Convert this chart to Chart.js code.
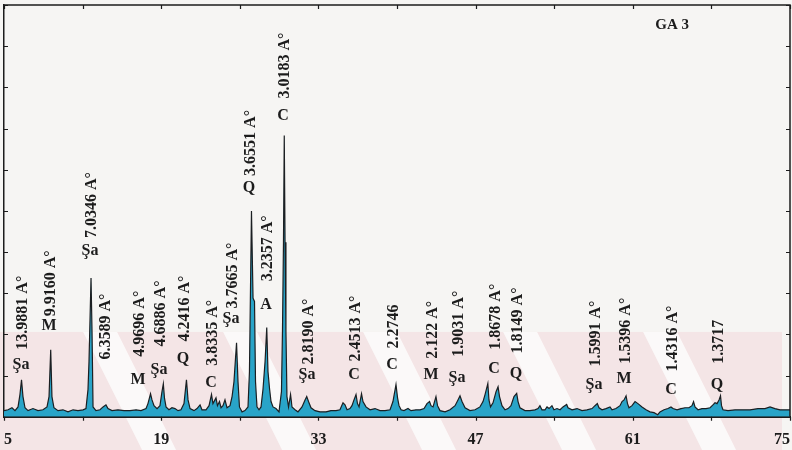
<!DOCTYPE html>
<html>
<head>
<meta charset="utf-8">
<script src="https://cdn.jsdelivr.net/npm/chart.js@4.4.1/dist/chart.umd.min.js"></script>
<style>
  html, body { margin: 0; padding: 0; background: #f6f5f3; }
  canvas { display: block; }
</style>
</head>
<body>
<canvas id="xrd" width="792" height="450"></canvas>
<script>
// Diffraction profile of sample GA 3: 2θ (degrees) and intensity (counts)
const twoTheta = [
  5.00, 5.36, 5.71, 5.98, 6.25, 6.42, 6.56, 6.69, 6.87, 7.14, 7.58, 8.03, 8.47, 8.83, 9.01, 9.16, 9.27, 9.45, 9.81, 10.25,
  10.70, 11.15, 11.59, 12.04, 12.30, 12.48, 12.57, 12.75, 12.84, 12.93, 13.19, 13.55, 13.82, 14.08, 14.26, 14.62, 15.15, 15.69, 16.22, 16.76,
  17.20, 17.65, 17.82, 18.05, 18.18, 18.36, 18.63, 18.89, 19.07, 19.19, 19.29, 19.43, 19.69, 19.96, 20.23, 20.50, 20.76, 21.03, 21.25, 21.39,
  21.57, 21.92, 22.19, 22.46, 22.63, 22.99, 23.26, 23.48, 23.61, 23.88, 24.01, 24.19, 24.33, 24.50, 24.68, 24.86, 25.13, 25.31, 25.48, 25.71,
  25.84, 25.97, 26.20, 26.46, 26.73, 26.86, 27.04, 27.18, 27.31, 27.40, 27.53, 27.71, 27.89, 28.07, 28.25, 28.40, 28.51, 28.65, 28.78, 28.96,
  29.22, 29.49, 29.71, 29.80, 29.89, 29.96, 30.03, 30.11, 30.20, 30.34, 30.52, 30.65, 30.92, 31.18, 31.54, 31.81, 31.96, 32.12, 32.34, 32.70,
  33.14, 33.68, 34.12, 34.57, 34.92, 35.19, 35.37, 35.55, 35.81, 35.99, 36.17, 36.35, 36.48, 36.62, 36.84, 36.97, 37.24, 37.60, 38.04, 38.49,
  38.93, 39.38, 39.64, 39.91, 40.05, 40.18, 40.36, 40.62, 40.98, 41.25, 41.69, 42.05, 42.41, 42.67, 42.90, 43.03, 43.21, 43.47, 43.61, 43.83,
  44.28, 44.72, 45.17, 45.43, 45.61, 45.79, 46.06, 46.50, 46.95, 47.39, 47.66, 47.84, 48.09, 48.19, 48.33, 48.55, 48.82, 49.00, 49.13, 49.35,
  49.62, 49.89, 50.15, 50.42, 50.66, 50.78, 50.95, 51.40, 51.84, 52.29, 52.56, 52.73, 52.91, 53.18, 53.36, 53.54, 53.80, 53.98, 54.25, 54.52,
  54.78, 55.11, 55.23, 55.59, 56.03, 56.48, 56.92, 57.37, 57.63, 57.84, 57.99, 58.26, 58.61, 58.97, 59.15, 59.50, 59.86, 60.04, 60.22, 60.40,
  60.53, 60.66, 60.93, 61.20, 61.46, 61.82, 62.18, 62.53, 62.89, 63.22, 63.42, 63.78, 64.13, 64.40, 64.58, 64.94, 65.29, 65.65, 66.00, 66.27,
  66.41, 66.54, 66.81, 67.16, 67.52, 67.88, 68.14, 68.32, 68.50, 68.68, 68.81, 68.90, 69.03, 69.48, 70.10, 70.73, 71.44, 72.15, 72.77, 73.22,
  73.66, 74.11, 74.55, 75.00
];
const counts = [
  15, 17, 22, 15, 24, 54, 90, 49, 22, 15, 20, 15, 17, 24, 49, 163, 49, 22, 15, 17,
  12, 17, 15, 17, 20, 66, 134, 337, 207, 24, 15, 17, 24, 29, 20, 15, 17, 15, 15, 17,
  15, 20, 32, 56, 41, 27, 20, 27, 61, 80, 46, 24, 17, 22, 20, 15, 17, 32, 90, 41,
  20, 15, 20, 29, 17, 17, 27, 54, 32, 46, 27, 37, 22, 27, 41, 22, 27, 49, 85, 180,
  85, 24, 12, 15, 24, 110, 500, 288, 280, 85, 24, 17, 24, 68, 134, 217, 110, 68, 37, 24,
  20, 12, 61, 207, 424, 683, 424, 207, 49, 24, 54, 24, 17, 12, 24, 41, 49, 37, 22, 15,
  12, 12, 15, 15, 17, 34, 29, 17, 20, 27, 41, 54, 32, 24, 56, 37, 24, 17, 20, 15,
  15, 17, 37, 78, 46, 27, 17, 15, 20, 15, 17, 17, 20, 32, 37, 27, 24, 49, 27, 15,
  12, 17, 27, 41, 51, 37, 22, 15, 17, 24, 37, 54, 81, 41, 24, 34, 61, 73, 49, 27,
  17, 20, 27, 49, 57, 37, 22, 15, 15, 17, 20, 27, 17, 17, 24, 20, 27, 17, 20, 17,
  24, 30, 22, 17, 20, 15, 17, 20, 27, 32, 22, 17, 20, 24, 17, 20, 27, 37, 41, 51,
  32, 22, 27, 37, 32, 24, 17, 12, 10, 5, 12, 17, 20, 24, 20, 17, 20, 22, 22, 27,
  37, 24, 17, 20, 20, 22, 29, 34, 32, 41, 51, 27, 17, 15, 17, 17, 17, 20, 20, 24,
  20, 17, 17, 17
];

// Axis ticks
const xTicks = [5, 12, 19, 26, 33, 40, 47, 54, 61, 68, 75];
const xTickLabels = ['5', '', '19', '', '33', '', '47', '', '61', '', '75'];
const yTicks = [0, 100, 200, 300, 400, 500, 600, 700, 800, 900, 1000];

// Identified reflections: 2θ, d-spacing, mineral phase, and the intensity level of each annotation
const peakTheta = [6.60, 9.10, 12.75, 14.00, 17.02, 18.89, 21.03, 23.52, 25.31, 26.91, 28.42, 29.94,
                   32.07, 36.26, 39.64, 43.12, 45.43, 48.73, 50.69, 57.63, 60.31, 64.49, 68.59];
const peakD = ['13.9881 A°', '9.9160 A°', '7.0346 A°', '6.3589 A°', '4.9696 A°', '4.6886 A°', '4.2416 A°',
               '3.8335 A°', '3.7665 A°', '3.6551 A°', '3.2357 A°', '3.0183 A°', '2.8190 A°', '2.4513 A°',
               '2.2746', '2.122 A°', '1.9031 A°', '1.8678 A°', '1.8149 A°', '1.5991 A°', '1.5396 A°',
               '1.4316 A°', '1.3717'];
const peakPhase = ['Şa', 'M', 'Şa', '', 'M', 'Şa', 'Q', 'C', 'Şa', 'Q', 'A', 'C',
                   'Şa', 'C', 'C', 'M', 'Şa', 'C', 'Q', 'Şa', 'M', 'C', 'Q'];
const dLabelLevel = [163, 244, 434, 139, 146, 171, 183, 124, 263, 585, 329, 773,
                     127, 134, 166, 141, 146, 163, 154, 122, 129, 110, 129];
const phaseLabelLevel = [127, 220, 402, null, 90, 115, 141, 83, 237, 556, 273, 732,
                         102, 102, 127, 102, 95, 117, 105, 78, 93, 66, 78];

const sampleName = 'GA 3';
const sampleNameAt = [64.5, 950];

const INK = '#1c1c1c';
const PAPER = '#f6f5f3';
const SERIF = '"Liberation Serif", "Times New Roman", serif';

// Paper background with the faint pink diagonal band along the base
const paperPlugin = {
  id: 'paper',
  beforeDraw(chart) {
    const { ctx, width, height, chartArea: a } = chart;
    ctx.save();
    ctx.fillStyle = PAPER;
    ctx.fillRect(0, 0, width, height);
    const top = a.bottom - 85;
    ctx.beginPath();
    ctx.rect(0, top, width - 10, height - top);
    ctx.clip();
    ctx.fillStyle = 'rgba(240, 200, 207, 0.35)';
    ctx.fillRect(0, top, width, height - top);
    ctx.fillStyle = 'rgba(252, 251, 251, 0.9)';
    const span = height - top;
    for (let x0 = a.left + 79; x0 < width + 40; x0 += 140) {
      ctx.beginPath();
      ctx.moveTo(x0, top);
      ctx.lineTo(x0 + 34, top);
      ctx.lineTo(x0 + 34 + span * 0.5, height);
      ctx.lineTo(x0 + span * 0.5, height);
      ctx.closePath();
      ctx.fill();
    }
    ctx.restore();
  }
};

// Box frame: top/right edges, inward ticks on left, top and right, short outward ticks below
const framePlugin = {
  id: 'frame',
  afterDraw(chart) {
    const { ctx, chartArea: a, scales: { x, y } } = chart;
    ctx.save();
    ctx.strokeStyle = INK;
    ctx.lineWidth = 1.5;
    ctx.beginPath();
    ctx.moveTo(a.left, a.top);
    ctx.lineTo(a.right, a.top);
    ctx.lineTo(a.right, a.bottom);
    ctx.stroke();
    ctx.lineWidth = 1.2;
    ctx.beginPath();
    yTicks.forEach(v => {
      const py = Math.round(y.getPixelForValue(v)) + 0.5;
      ctx.moveTo(a.left, py); ctx.lineTo(a.left + 4, py);
      ctx.moveTo(a.right, py); ctx.lineTo(a.right - 4, py);
    });
    xTicks.forEach(v => {
      const px = Math.round(x.getPixelForValue(v)) + 0.5;
      ctx.moveTo(px, a.top); ctx.lineTo(px, a.top + 4);
      ctx.moveTo(px, a.bottom); ctx.lineTo(px, a.bottom + 4);
    });
    ctx.stroke();
    ctx.restore();
  }
};

// Peak annotations: phase symbol plus vertical d-spacing text
const peakLabelPlugin = {
  id: 'peakLabels',
  afterDatasetsDraw(chart) {
    const { ctx, scales: { x, y } } = chart;
    ctx.save();
    ctx.fillStyle = INK;
    ctx.font = 'bold 16px ' + SERIF;
    peakTheta.forEach((t, i) => {
      const px = x.getPixelForValue(t);
      const pyText = y.getPixelForValue(dLabelLevel[i]);
      ctx.save();
      ctx.translate(px, pyText);
      ctx.rotate(-Math.PI / 2);
      ctx.textAlign = 'left';
      ctx.textBaseline = 'middle';
      ctx.fillText(peakD[i], 0, 1);
      ctx.restore();
      if (peakPhase[i]) {
        ctx.textAlign = 'center';
        ctx.textBaseline = 'middle';
        ctx.fillText(peakPhase[i], px - 1, y.getPixelForValue(phaseLabelLevel[i]));
      }
    });
    ctx.font = 'bold 15px ' + SERIF;
    ctx.textAlign = 'center';
    ctx.textBaseline = 'middle';
    ctx.fillText(sampleName, x.getPixelForValue(sampleNameAt[0]), y.getPixelForValue(sampleNameAt[1]));
    ctx.restore();
  }
};

new Chart(document.getElementById('xrd'), {
  type: 'line',
  data: {
    datasets: [{
      data: twoTheta.map((t, i) => ({ x: t, y: counts[i] })),
      borderColor: '#1b1f22',
      borderWidth: 1.2,
      backgroundColor: '#29a4c8',
      fill: 'origin',
      pointRadius: 0,
      tension: 0
    }]
  },
  options: {
    responsive: false,
    animation: false,
    layout: { padding: { left: -4, right: 2, top: 5, bottom: 1 } },
    plugins: { legend: { display: false }, tooltip: { enabled: false } },
    scales: {
      x: {
        type: 'linear',
        min: 5,
        max: 75,
        afterBuildTicks(axis) { axis.ticks = xTicks.map(v => ({ value: v })); },
        ticks: {
          autoSkip: false,
          maxRotation: 0,
          align: 'inner',
          padding: 0,
          color: INK,
          font: { family: SERIF, size: 16, weight: 'bold' },
          callback: (value, index) => xTickLabels[index]
        },
        grid: { display: true, drawOnChartArea: false, drawTicks: true, tickLength: 13, tickColor: 'rgba(0,0,0,0)' },
        border: { display: true, color: INK, width: 2 }
      },
      y: {
        type: 'linear',
        min: 0,
        max: 1000,
        afterBuildTicks(axis) { axis.ticks = yTicks.map(v => ({ value: v })); },
        ticks: { display: false },
        grid: { display: false },
        border: { display: true, color: INK, width: 1.5 }
      }
    }
  },
  plugins: [paperPlugin, peakLabelPlugin, framePlugin]
});
</script>
</body>
</html>
